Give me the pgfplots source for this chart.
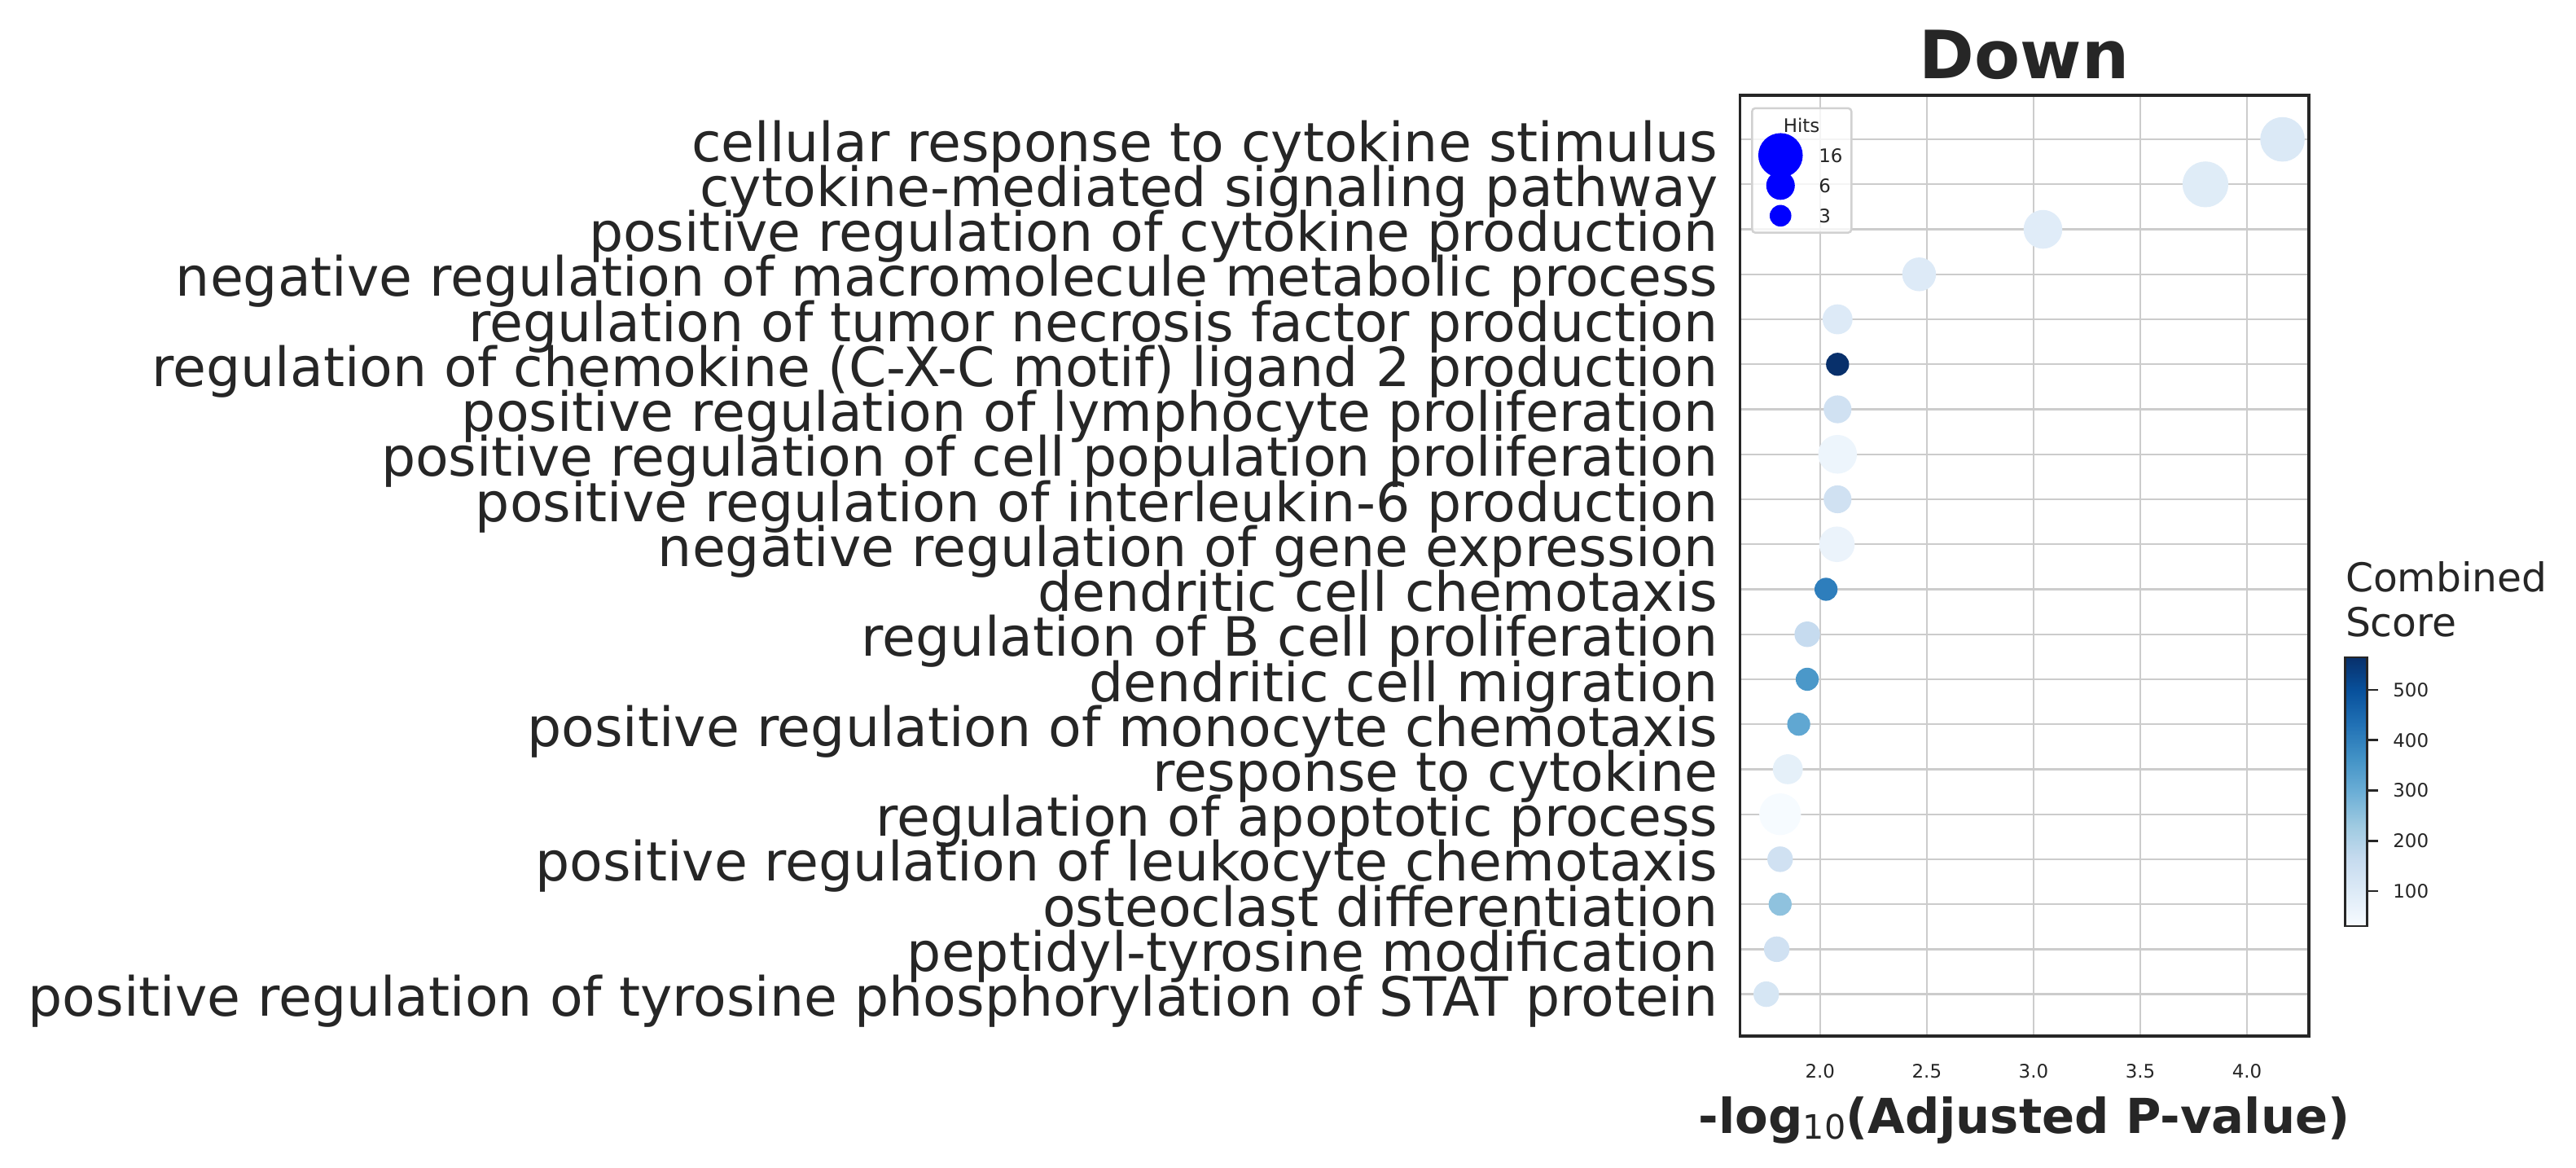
\documentclass[border=0pt]{standalone}
\usepackage{pgfplots}
\pgfplotsset{compat=1.18}
\usepackage{pgfplotstable}
\usepackage{fontspec}
\setmainfont{DejaVu Sans}
\definecolor{txt}{HTML}{262626}
\definecolor{gridc}{HTML}{CCCCCC}

\pgfplotstableread{
y x hits score
19 4.166 15 105
18 3.805 16 95
17 3.044 11 92
16 2.464 8 100
15 2.082 6 100
14 2.082 3 565
13 2.082 5 137
12 2.082 11 57
11 2.082 5 137
10 2.079 9 62
9 2.028 3 405
8 1.940 4 164
7 1.940 3 350
6 1.900 3 315
5 1.849 6 78
4 1.813 13 32
3 1.813 4 137
2 1.813 3 250
1 1.797 4 137
0 1.748 4 120
}\datatable

\newcommand{\hitsimg}[1]{%
  \begin{pgfinterruptboundingbox}\path[fill=blue,fill opacity=1,draw=none] (8.4pt,0pt) circle (#1);\end{pgfinterruptboundingbox}%
  \path[draw=none,fill=none] (0pt,-4.45pt) rectangle (19.7pt,4.45pt);}

\begin{document}
\begin{tikzpicture}
\useasboundingbox (0pt,0pt) rectangle (759.12pt,344.16pt);
\begin{axis}[
  at={(512.76pt,38.88pt)}, anchor=south west,
  scale only axis, width=167.6pt, height=277.2pt,
  xmin=1.625, xmax=4.289, ymin=-0.93, ymax=19.98,
  xtick={2,2.5,3,3.5,4},
  xticklabels={2.0,2.5,3.0,3.5,4.0},
  ytick={0,1,...,19},
  yticklabels={positive regulation of tyrosine phosphorylation of STAT protein,
    peptidyl-tyrosine modification,
    osteoclast differentiation,
    positive regulation of leukocyte chemotaxis,
    regulation of apoptotic process,
    response to cytokine,
    positive regulation of monocyte chemotaxis,
    dendritic cell migration,
    regulation of B cell proliferation,
    dendritic cell chemotaxis,
    negative regulation of gene expression,
    positive regulation of interleukin-6 production,
    positive regulation of cell population proliferation,
    positive regulation of lymphocyte proliferation,
    regulation of chemokine (C-X-C motif) ligand 2 production,
    regulation of tumor necrosis factor production,
    negative regulation of macromolecule metabolic process,
    positive regulation of cytokine production,
    cytokine-mediated signaling pathway,
    cellular response to cytokine stimulus},
  grid=major, grid style={gridc, line width=0.55pt},
  major tick length=0pt, tick style={draw=none},
  axis line style={txt, line width=0.9pt},
  yticklabel style={anchor=base east, inner sep=0pt, xshift=-6.35pt, yshift=-6.5pt,
    font=\fontsize{15.95}{19}\selectfont, text=txt},
  xticklabel style={anchor=center, yshift=-10.3pt, font=\fontsize{5.5}{6.6}\selectfont, text=txt},
  title={Down},
  title style={at={(0.5,1)}, anchor=base, yshift=-1pt, inner sep=0pt,
    font=\bfseries\fontsize{19.6}{23}\selectfont, text=txt},
  xlabel={-log{\mdseries\fontsize{9.9}{10}\selectfont\raisebox{-1.6pt}{10}}(Adjusted P-value)},
  xlabel style={at={(axis description cs:0.5,0)}, anchor=base, yshift=-28.8pt, inner sep=0pt,
    font=\bfseries\fontsize{14.2}{17}\selectfont, text=txt},
  colormap={blues}{rgb255=(247,251,255) rgb255=(222,235,247) rgb255=(198,219,239)
    rgb255=(158,202,225) rgb255=(107,174,214) rgb255=(66,146,198) rgb255=(33,113,181)
    rgb255=(8,81,156) rgb255=(8,48,107)},
  point meta min=30.4, point meta max=564.8,
  colorbar right,
  colorbar style={
    at={(parent axis.south east)}, anchor=south west, xshift=2.1pt, yshift=32.4pt,
    scale only axis, width=6.5pt, height=79.2pt,
    ytick={100,200,300,400,500},
    yticklabels={100,200,300,400,500},
    ytick pos=right, yticklabel pos=right,
    tick align=outside, major tick length=3.2pt,
    tick style={draw=txt, line width=0.65pt},
    axis line style={txt, line width=0.65pt},
    yticklabel style={anchor=west, inner sep=0pt, xshift=4.3pt,
      font=\fontsize{5.5}{6.6}\selectfont, text=txt},
    title={Combined\\Score},
    title style={at={(0,1)}, anchor=south west, align=left, inner sep=0pt, text depth=0pt,
      yshift=0pt, font=\fontsize{11.7}{13}\selectfont, text=txt},
  },
  legend cell align=left,
  legend style={
    at={(0,1)}, anchor=north west, xshift=3.24pt, yshift=-3.5pt,
    draw=black!18, line width=0.6pt, rounded corners=1pt,
    fill=white, fill opacity=0.8, text opacity=1,
    inner xsep=0pt, inner ysep=0.55pt, row sep=0pt,
    font=\fontsize{5.5}{6.6}\selectfont, text=txt,
    nodes={inner sep=0pt, text depth=0pt, text width=9.6pt},
  },
]
\addplot[scatter, only marks, mark=*, forget plot,
  scatter src=explicit,
  scatter/use mapped color={draw=mapped color, fill=mapped color},
  visualization depends on={\thisrow{hits} \as \hits},
  scatter/@pre marker code/.append style={/tikz/mark size={0.12*sqrt(707.6+(\hits-3)*174.9)}},
] table[x=x, y=y, meta=score] {\datatable};

\addlegendimage{legend image code/.code={\path[draw=none,fill=none] (0pt,-4.45pt) rectangle (19.7pt,4.45pt);}}
\addlegendentry{\hspace*{-5.1pt}\makebox[0pt]{Hits}}
\addlegendimage{legend image code/.code={\hitsimg{6.55pt}}}
\addlegendentry{16}
\addlegendimage{legend image code/.code={\hitsimg{4.21pt}}}
\addlegendentry{6}
\addlegendimage{legend image code/.code={\hitsimg{3.19pt}}}
\addlegendentry{3}
\end{axis}
\end{tikzpicture}
\end{document}
